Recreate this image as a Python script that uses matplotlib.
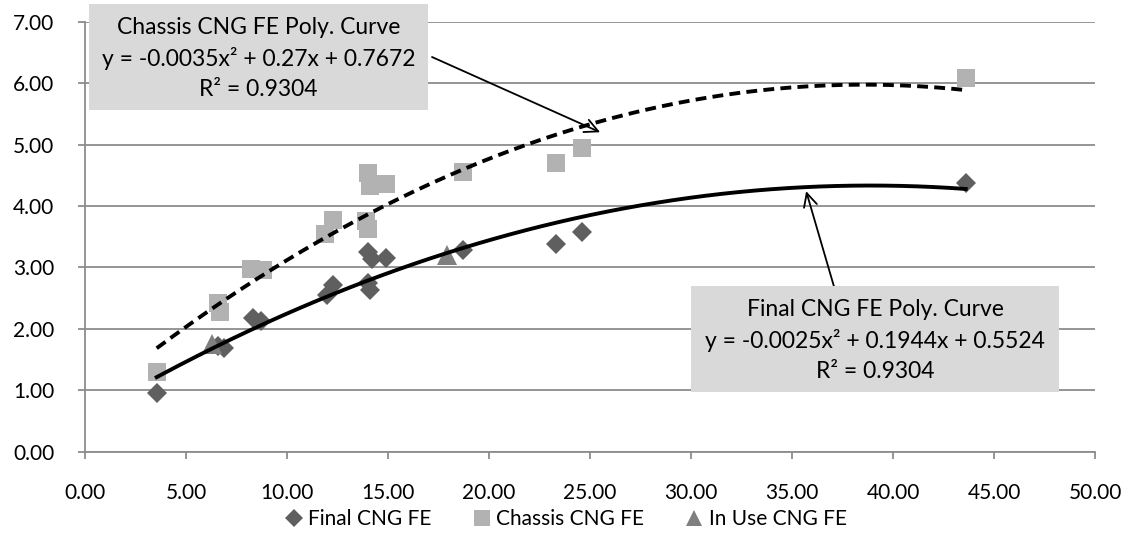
import numpy as np
import matplotlib.pyplot as plt
from matplotlib.patches import Rectangle
from matplotlib.lines import Line2D

plt.rcParams['font.family'] = ['Lato', 'DejaVu Sans']

# values
final_x = [3.55, 6.6, 6.9, 8.3, 8.7, 12.0, 12.3, 14.0, 14.1, 14.0, 14.2, 14.9, 18.7, 23.3, 24.6, 43.6]
final_y = [0.95, 1.72, 1.68, 2.17, 2.13, 2.55, 2.71, 2.75, 2.63, 3.25, 3.13, 3.15, 3.28, 3.38, 3.58, 4.38]

chassis_x = [3.55, 6.6, 6.7, 8.2, 8.8, 11.9, 12.3, 13.9, 14.0, 14.0, 14.1, 14.9, 18.7, 23.3, 24.6, 43.6]
chassis_y = [1.30, 2.42, 2.28, 2.98, 2.95, 3.55, 3.77, 3.76, 3.63, 4.53, 4.33, 4.36, 4.55, 4.70, 4.95, 6.08]

inuse_x = [6.3, 17.9]
inuse_y = [1.75, 3.20]

# trendline coefficients as printed on the chart (x^2, x, 1)
final_coef = [-0.0025, 0.1944, 0.5524]
chassis_coef = [-0.0035, 0.27, 0.7672]

x_ticks = [0, 5, 10, 15, 20, 25, 30, 35, 40, 45, 50]
y_ticks = [0, 1, 2, 3, 4, 5, 6, 7]

W, H = 1132, 536
fig = plt.figure(figsize=(W / 100, H / 100), dpi=100)
ax = fig.add_axes([85 / W, (H - 451.5) / H, (1095 - 85) / W, (451.5 - 21.7) / H])

grey = '#8c8c8c'
ax.plot(final_x, final_y, 'D', color='#5f5f5f', ms=10, mew=0, zorder=3)
ax.plot(chassis_x, chassis_y, 's', color='#b2b2b2', ms=13, mew=0, zorder=3)
ax.plot(inuse_x, inuse_y, '^', color='#7f7f7f', ms=14, mew=0, zorder=3)

xs = np.linspace(min(final_x), max(final_x), 200)
ax.plot(xs, np.polyval(final_coef, xs), color='black', lw=2.8, zorder=4)
xs2 = np.linspace(min(chassis_x), max(chassis_x), 200)
ax.plot(xs2, np.polyval(chassis_coef, xs2), color='black', lw=2.8, ls=(0, (2.8, 1.6)), zorder=4)

ax.set_xlim(0, 50)
ax.set_ylim(0, 7)
ax.set_xticks(x_ticks)
ax.set_yticks(y_ticks)
ax.set_xticklabels(['%.2f' % v for v in x_ticks])
ax.set_yticklabels(['%.2f' % v for v in y_ticks])
ax.yaxis.grid(True, color=grey, lw=1.3)
ax.set_axisbelow(True)
for s in ['top', 'right']:
    ax.spines[s].set_visible(False)
for s in ['left', 'bottom']:
    ax.spines[s].set_color(grey)
    ax.spines[s].set_linewidth(1.3)
ax.tick_params(axis='x', length=5, width=1.3, color=grey, pad=18, labelsize=15)
ax.tick_params(axis='y', length=5, width=1.3, color=grey, pad=17, labelsize=15)

# annotation boxes (pixel layout, top-left origin)
def box(x0, y0, x1, y1, lines, line_y):
    fig.add_artist(Rectangle((x0 / W, (H - y1) / H), (x1 - x0) / W, (y1 - y0) / H,
                             transform=fig.transFigure, facecolor='#d9d9d9',
                             edgecolor='none', zorder=5))
    for t, ly in zip(lines, line_y):
        fig.text((x0 + x1) / 2 / W, (H - ly) / H, t, ha='center', va='center',
                 fontsize=16.5, zorder=6)

box(89, 4, 428, 110,
    ['Chassis CNG FE Poly. Curve', 'y = -0.0035x² + 0.27x + 0.7672', 'R² = 0.9304'],
    [28, 59, 89])
box(691, 286, 1059, 392,
    ['Final CNG FE Poly. Curve', 'y = -0.0025x² + 0.1944x + 0.5524', 'R² = 0.9304'],
    [310, 341, 372])

arrow = dict(arrowstyle='->', color='black', lw=1.3, shrinkA=0, shrinkB=0, mutation_scale=24)
ax.annotate('', xy=(25.5, 5.2), xycoords='data', xytext=(432, H - 57),
            textcoords='figure pixels', arrowprops=arrow, annotation_clip=False)
ax.annotate('', xy=(35.7, 4.24), xycoords='data', xytext=(835, H - 290),
            textcoords='figure pixels', arrowprops=arrow, annotation_clip=False)

handles = [Line2D([], [], ls='none', marker='D', color='#5f5f5f', ms=9, mew=0),
           Line2D([], [], ls='none', marker='s', color='#b2b2b2', ms=12, mew=0),
           Line2D([], [], ls='none', marker='^', color='#7f7f7f', ms=12, mew=0)]
fig.legend(handles, ['Final CNG FE', 'Chassis CNG FE', 'In Use CNG FE'],
           loc='lower center', bbox_to_anchor=(0.5, -0.022), ncol=3, frameon=False,
           fontsize=15, handlelength=0.8, handletextpad=0.3, columnspacing=2.0)

fig.savefig('out.png', dpi=100)
